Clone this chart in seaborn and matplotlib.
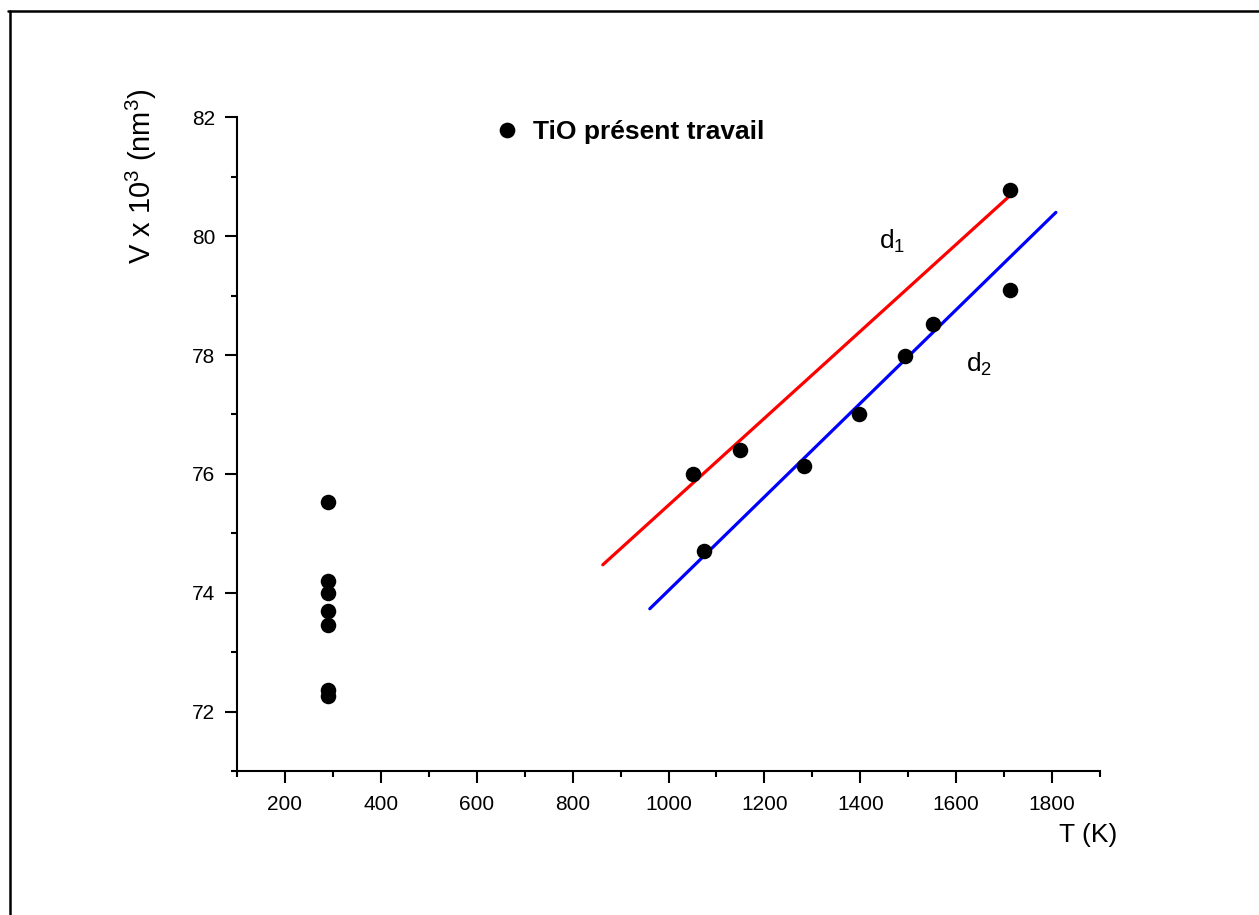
import matplotlib
matplotlib.use("Agg")
import matplotlib.pyplot as plt
from matplotlib.lines import Line2D
from matplotlib.ticker import MultipleLocator
import pandas as pd
import seaborn as sns

# Measured cell volumes of TiO versus temperature
temperature_K = [290, 290, 290, 290, 290, 290, 290,
                 1051, 1149, 1074, 1282, 1398, 1494, 1552, 1712, 1712]
volume_1e3_nm3 = [75.52, 74.19, 73.99, 73.70, 73.45, 72.37, 72.27,
                  76.00, 76.40, 74.70, 76.13, 77.01, 77.98, 78.53, 80.77, 79.10]

# Linear trends d1 and d2 (end points of each fitted segment)
d1_T = [863, 1716]
d1_V = [74.47, 80.71]
d2_T = [961, 1808]
d2_V = [73.73, 80.40]

series_label = "TiO présent travail"
x_ticks = [200, 400, 600, 800, 1000, 1200, 1400, 1600, 1800]
y_ticks = [72, 74, 76, 78, 80, 82]

sns.set_theme(style="ticks")
plt.rcParams["font.family"] = ["Liberation Sans", "DejaVu Sans"]
plt.rcParams["mathtext.fontset"] = "custom"
plt.rcParams["mathtext.rm"] = "Liberation Sans"

W, H = 1259, 915
fig = plt.figure(figsize=(W / 100, H / 100), dpi=100)
fig.patch.set_facecolor("white")
ax = fig.add_axes([237 / W, 1 - 771 / H, (1100 - 237) / W, (771 - 117.3) / H])
ax.set_facecolor("white")

pts = pd.DataFrame({"T": temperature_K, "V": volume_1e3_nm3})
d1 = pd.DataFrame({"T": d1_T, "V": d1_V})
d2 = pd.DataFrame({"T": d2_T, "V": d2_V})

sns.lineplot(data=d1, x="T", y="V", ax=ax, color="#ff0000", linewidth=2.3,
             estimator=None, sort=False, legend=False, zorder=2)
sns.lineplot(data=d2, x="T", y="V", ax=ax, color="#0000ff", linewidth=2.3,
             estimator=None, sort=False, legend=False, zorder=2)
sns.scatterplot(data=pts, x="T", y="V", ax=ax, color="black", s=125,
                linewidth=0, edgecolor="black", zorder=3, legend=False)

ax.set_xlim(100, 1900)
ax.set_ylim(71, 82)
ax.set_xticks(x_ticks)
ax.set_yticks(y_ticks)
ax.xaxis.set_minor_locator(MultipleLocator(100))
ax.yaxis.set_minor_locator(MultipleLocator(1))
ax.set_xlabel("")
ax.set_ylabel("")

for side in ("top", "right"):
    ax.spines[side].set_visible(False)
for side in ("left", "bottom"):
    ax.spines[side].set_linewidth(1.5)
    ax.spines[side].set_color("black")

ax.tick_params(which="major", direction="out", length=8.6, width=1.5,
               labelsize=15, colors="black")
ax.tick_params(which="minor", direction="out", length=4.3, width=1.5,
               colors="black")
ax.tick_params(axis="x", which="major", pad=9)
ax.tick_params(axis="y", which="major", pad=7)

# Legend entry for the measured points
handle = Line2D([], [], linestyle="none", marker="o", markersize=11.3,
                markerfacecolor="black", markeredgewidth=0)
leg = ax.legend([handle], [series_label], loc="center left",
                bbox_to_anchor=(0.2976, 0.9775), frameon=False, borderpad=0,
                borderaxespad=0, handlelength=1.0, handletextpad=0.5,
                prop={"weight": "bold", "size": 19})
for t in leg.get_texts():
    t.set_color("black")

# Labels of the two trend lines
ax.text(1440, 79.80, r"d$_\mathregular{1}$", fontsize=19, ha="left",
        va="baseline", color="black")
ax.text(1620, 77.73, r"d$_\mathregular{2}$", fontsize=19, ha="left",
        va="baseline", color="black")

# Axis titles
fig.text(141 / W, 1 - 176 / H, r"V x 10$^\mathregular{3}$ (nm$^\mathregular{3}$)",
         rotation=90, ha="center", va="center", fontsize=21, color="black")
fig.text(1088 / W, 1 - 835 / H, "T (K)", ha="center", va="center",
         fontsize=19, color="black")

# Page frame (top and left edges)
fig.add_artist(Line2D([8 / W, 1.0], [1 - 11 / H, 1 - 11 / H],
                      transform=fig.transFigure, color="black", linewidth=1.8))
fig.add_artist(Line2D([10 / W, 10 / W], [0.0, 1 - 11 / H],
                      transform=fig.transFigure, color="black", linewidth=1.8))

fig.savefig("out.png", dpi=100, facecolor="white")
